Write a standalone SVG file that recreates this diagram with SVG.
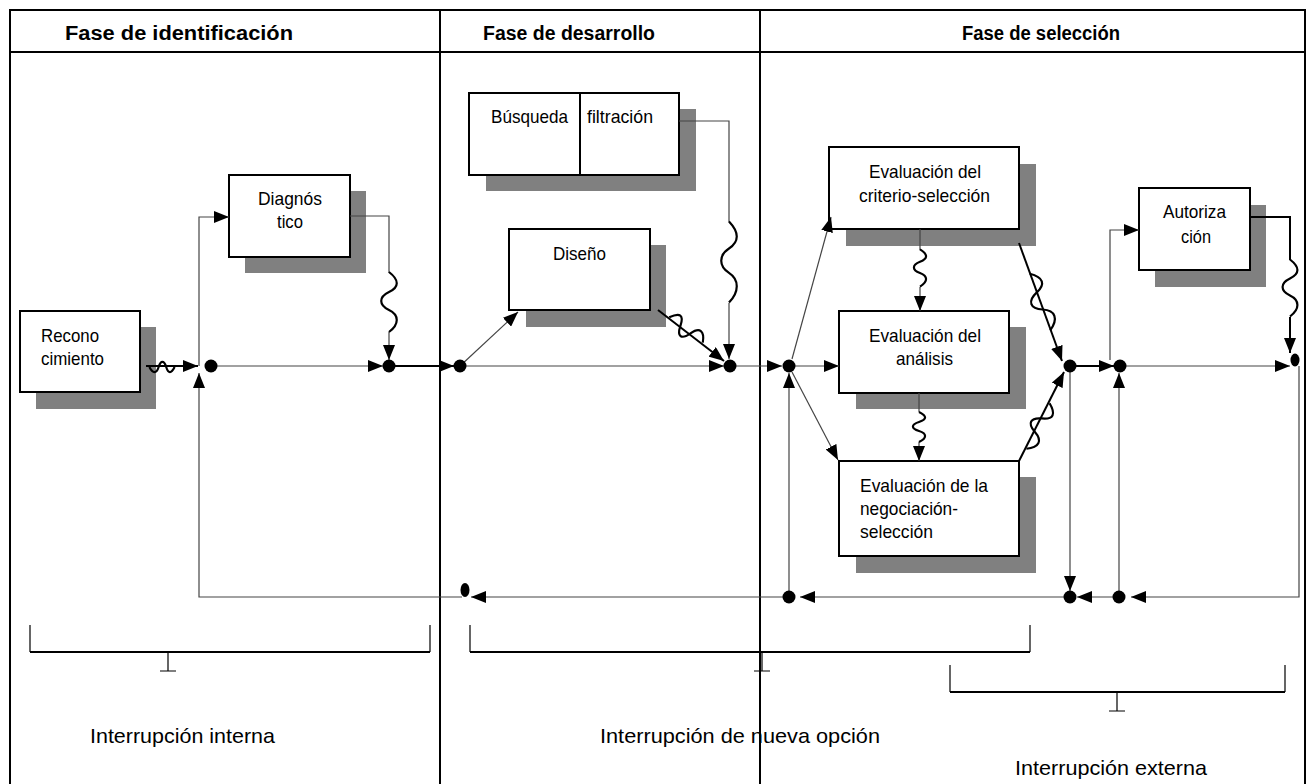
<svg xmlns="http://www.w3.org/2000/svg" xmlns:xlink="http://www.w3.org/1999/xlink" width="1307" height="784" viewBox="0 0 1307 784">
  <style>
    .frame { fill: none; stroke: #000; stroke-width: 2; }
    .title { font-family: "Liberation Sans", Arial, sans-serif; font-size: 20px; font-weight: bold; fill: #000; }
    .lbl { font-family: "Liberation Sans", Arial, sans-serif; font-size: 19px; fill: #000; }
    .big { font-family: "Liberation Sans", Arial, sans-serif; font-size: 21px; fill: #000; }
    .box { fill: #fff; stroke: #000; stroke-width: 2; }
    .shadow { fill: #808080; }
    .thin { fill: none; stroke: #444; stroke-width: 1.2; marker-end: url(#ah); }
    .thick { fill: none; stroke: #000; stroke-width: 2; marker-end: url(#ah); }
    .dot { fill: #000; }
    .wv { fill: none; stroke: #000; stroke-width: 2.2; }
    .brk { fill: none; stroke: #000; stroke-width: 2.2; }
    .tick { fill: none; stroke: #000; stroke-width: 1.2; }
  </style>
  <defs>
    <marker id="ah" viewBox="0 0 15 12" refX="15" refY="6" markerWidth="15" markerHeight="12" markerUnits="userSpaceOnUse" orient="auto">
      <path d="M0,0 L15,6 L0,12 z" fill="#000"/>
    </marker>
    <!-- wavy "interruption" mark, drawn vertically, centred on the origin -->
    <path id="wave" d="M0,-30 C9,-22 9,-15 0,-10 C-9,-5 -9,3 0,8 C9,13 9,22 0,30" vector-effect="non-scaling-stroke"/>
  </defs>

  <rect width="1307" height="784" fill="#fff"/>

  <!-- table frame and phase columns -->
  <g id="frame">
    <rect class="frame" x="10" y="10" width="1295" height="790"/>
    <line class="frame" x1="10" y1="52" x2="1305" y2="52"/>
    <line class="frame" x1="440" y1="10" x2="440" y2="784"/>
    <line class="frame" x1="760" y1="10" x2="760" y2="784"/>
    <text class="title" x="65" y="40" textLength="228" lengthAdjust="spacingAndGlyphs">Fase de identificación</text>
    <text class="title" x="483" y="40" textLength="172" lengthAdjust="spacingAndGlyphs">Fase de desarrollo</text>
    <text class="title" x="962" y="40" textLength="158" lengthAdjust="spacingAndGlyphs">Fase de selección</text>
  </g>

  <!-- activity boxes -->
  <g id="reconocimiento">
    <rect class="shadow" x="36" y="327" width="120" height="82"/>
    <rect class="box" x="20" y="311" width="120" height="81"/>
    <text class="lbl" x="41" y="342" textLength="58" lengthAdjust="spacingAndGlyphs">Recono</text>
    <text class="lbl" x="41" y="365" textLength="63" lengthAdjust="spacingAndGlyphs">cimiento</text>
  </g>
  <g id="diagnostico">
    <rect class="shadow" x="245" y="191" width="121" height="82"/>
    <rect class="box" x="229" y="175" width="121" height="82"/>
    <text class="lbl" x="258" y="205" textLength="64" lengthAdjust="spacingAndGlyphs">Diagnós</text>
    <text class="lbl" x="277" y="228" textLength="26" lengthAdjust="spacingAndGlyphs">tico</text>
  </g>
  <g id="busqueda">
    <rect class="shadow" x="486" y="109" width="210" height="82"/>
    <rect class="box" x="469" y="93" width="210" height="82"/>
    <line x1="580" y1="93" x2="580" y2="175" stroke="#000" stroke-width="2"/>
    <text class="lbl" x="491" y="123" textLength="77" lengthAdjust="spacingAndGlyphs">Búsqueda</text>
    <text class="lbl" x="587" y="123" textLength="66" lengthAdjust="spacingAndGlyphs">filtración</text>
  </g>
  <g id="diseno">
    <rect class="shadow" x="526" y="245" width="140" height="82"/>
    <rect class="box" x="509" y="229" width="141" height="81"/>
    <text class="lbl" x="553" y="260" textLength="53" lengthAdjust="spacingAndGlyphs">Diseño</text>
  </g>
  <g id="eval-criterio">
    <rect class="shadow" x="846" y="164" width="190" height="82"/>
    <rect class="box" x="829" y="147" width="190" height="82"/>
    <text class="lbl" x="869" y="178" textLength="112" lengthAdjust="spacingAndGlyphs">Evaluación del</text>
    <text class="lbl" x="859" y="202" textLength="131" lengthAdjust="spacingAndGlyphs">criterio-selección</text>
  </g>
  <g id="eval-analisis">
    <rect class="shadow" x="856" y="327" width="170" height="82"/>
    <rect class="box" x="839" y="311" width="170" height="82"/>
    <text class="lbl" x="869" y="342" textLength="112" lengthAdjust="spacingAndGlyphs">Evaluación del</text>
    <text class="lbl" x="896" y="365" textLength="57" lengthAdjust="spacingAndGlyphs">análisis</text>
  </g>
  <g id="eval-negociacion">
    <rect class="shadow" x="856" y="477" width="180" height="96"/>
    <rect class="box" x="839" y="461" width="180" height="95"/>
    <text class="lbl" x="860" y="492" textLength="128" lengthAdjust="spacingAndGlyphs">Evaluación de la</text>
    <text class="lbl" x="860" y="515" textLength="98" lengthAdjust="spacingAndGlyphs">negociación-</text>
    <text class="lbl" x="860" y="538" textLength="73" lengthAdjust="spacingAndGlyphs">selección</text>
  </g>
  <g id="autorizacion">
    <rect class="shadow" x="1155" y="205" width="111" height="82"/>
    <rect class="box" x="1139" y="188" width="111" height="82"/>
    <text class="lbl" x="1163" y="218" textLength="63" lengthAdjust="spacingAndGlyphs">Autoriza</text>
    <text class="lbl" x="1181" y="243" textLength="30" lengthAdjust="spacingAndGlyphs">ción</text>
  </g>

  <!-- connectors -->
  <g id="connectors">
    <!-- identification phase -->
    <path class="thick" d="M146,366 H198"/>
    <path class="thin" d="M199,366 V217 H229"/>
    <path class="thin" d="M211,366 H383"/>
    <path class="thin" d="M350,216 H389 V273 M389,332 V360"/>
    <path class="thick" d="M389,366 H454"/>
    <!-- development phase -->
    <path class="thin" d="M460,366 L518,312"/>
    <path class="thin" d="M460,366 H724"/>
    <path class="thin" d="M679,121 H729 V222 M729,303 V359"/>
    <path class="thick" d="M658,310 L724,361"/>
    <path class="thin" d="M730,366 H782"/>
    <!-- selection phase -->
    <path class="thin" d="M792,359 L831,217"/>
    <path class="thin" d="M789,366 H839"/>
    <path class="thin" d="M792,372 L838,460"/>
    <path class="thin" d="M920,229 V250 M920,287 V311"/>
    <path class="thin" d="M919,393 V412 M919,442 V461"/>
    <path class="thick" d="M1019,243 L1062,361"/>
    <path class="thick" d="M1019,461 L1064,372"/>
    <path class="thick" d="M1070,366 H1114"/>
    <path class="thin" d="M1070,366 V591"/>
    <path class="thin" d="M1110,360 V230 H1139"/>
    <path class="thin" d="M1120,366 H1290"/>
    <path class="thick" d="M1250,217 H1290 V260 M1290,317 V353"/>
    <!-- feedback loop along the bottom -->
    <path class="thin" d="M1299,366 V597 H1131"/>
    <path class="thin" d="M1119,597 V373"/>
    <path class="thin" d="M1119,597 H1077"/>
    <path class="thin" d="M1070,597 H800"/>
    <path class="thin" d="M789,597 V373"/>
    <path class="thin" d="M789,597 H471"/>
    <path class="thin" d="M462,597 H199 V373"/>

    <!-- junction dots -->
    <circle class="dot" cx="211" cy="366" r="6.5"/>
    <circle class="dot" cx="389" cy="366" r="6.5"/>
    <circle class="dot" cx="460" cy="366" r="6.5"/>
    <circle class="dot" cx="730" cy="366" r="6.5"/>
    <circle class="dot" cx="789" cy="366" r="6.5"/>
    <circle class="dot" cx="1070" cy="366" r="6.5"/>
    <circle class="dot" cx="1120" cy="366" r="6.5"/>
    <ellipse class="dot" cx="1295" cy="360" rx="4.5" ry="6.5"/>
    <circle class="dot" cx="1070" cy="597" r="6.5"/>
    <circle class="dot" cx="1119" cy="597" r="6.5"/>
    <circle class="dot" cx="789" cy="597" r="6.5"/>
    <ellipse class="dot" cx="465" cy="590" rx="4.5" ry="7"/>

    <!-- wavy interruption marks on the flows -->
    <use href="#wave" xlink:href="#wave" class="wv" transform="translate(162,367) rotate(90) scale(0.75,0.42)"/>
    <use href="#wave" xlink:href="#wave" class="wv" transform="translate(389,302) scale(1.15,1)"/>
    <use href="#wave" xlink:href="#wave" class="wv" transform="translate(729,262) scale(1.15,1.35)"/>
    <use href="#wave" xlink:href="#wave" class="wv" transform="translate(686,330) rotate(-53) scale(1.2,0.7)"/>
    <use href="#wave" xlink:href="#wave" class="wv" transform="translate(920,268) scale(0.9,0.62)"/>
    <use href="#wave" xlink:href="#wave" class="wv" transform="translate(919,427) scale(0.9,0.5)"/>
    <use href="#wave" xlink:href="#wave" class="wv" transform="translate(1040,302) rotate(-20) scale(1.3,1)"/>
    <use href="#wave" xlink:href="#wave" class="wv" transform="translate(1038,426) rotate(27) scale(1.2,0.85)"/>
    <use href="#wave" xlink:href="#wave" class="wv" transform="translate(1290,288) scale(1.1,0.95)"/>
  </g>

  <!-- interruption brackets -->
  <g id="int-interna">
    <path class="tick" d="M30,625 V652 M430,625 V652 M168,652 V671 M160,671 H176"/>
    <path class="brk" d="M30,652 H430"/>
    <text class="big" x="90" y="743" textLength="185" lengthAdjust="spacingAndGlyphs">Interrupción interna</text>
  </g>
  <g id="int-nueva">
    <path class="tick" d="M470,625 V652 M1030,625 V652 M762,652 V671 M754,671 H770"/>
    <path class="brk" d="M470,652 H1030"/>
    <text class="big" x="600" y="743" textLength="280" lengthAdjust="spacingAndGlyphs">Interrupción de nueva opción</text>
  </g>
  <g id="int-externa">
    <path class="tick" d="M950,665 V692 M1285,665 V692 M1117,692 V711 M1109,711 H1125"/>
    <path class="brk" d="M950,692 H1285"/>
    <text class="big" x="1015" y="775" textLength="192" lengthAdjust="spacingAndGlyphs">Interrupción externa</text>
  </g>
</svg>
